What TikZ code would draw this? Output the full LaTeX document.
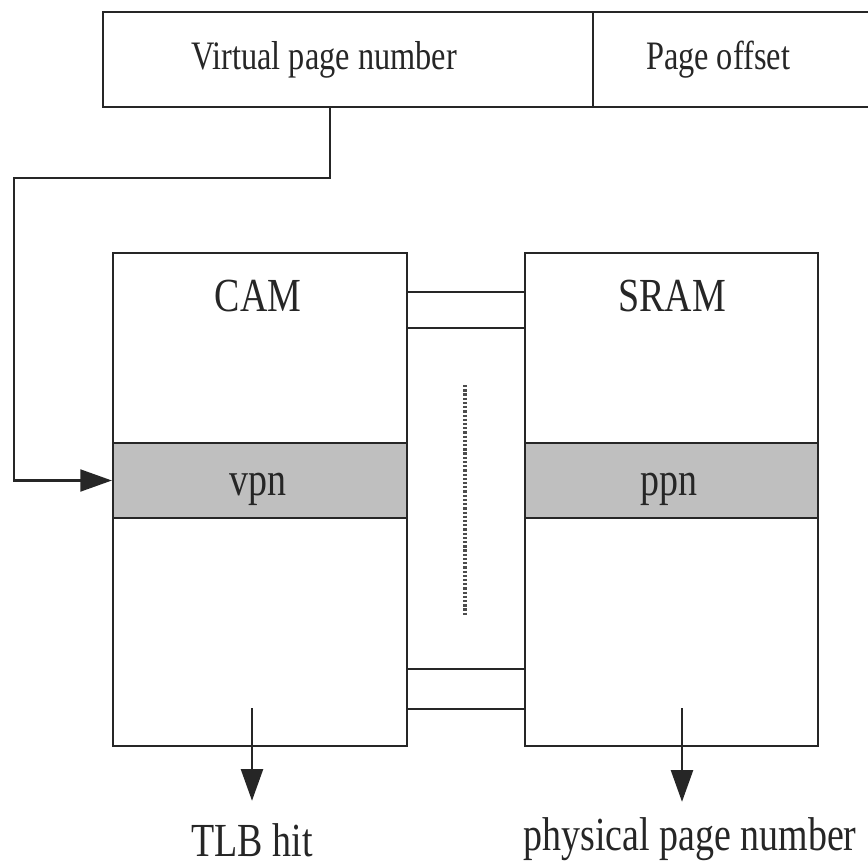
\documentclass[tikz,border=0pt]{standalone}
\usepackage{fontspec}
\setmainfont{Liberation Serif}[FakeStretch=0.8]
\usetikzlibrary{arrows.meta}
\begin{document}
\begin{tikzpicture}[x=0.02cm, y=-0.02cm,
  box/.style={draw=black!85, line width=1.3pt, rectangle, inner sep=0pt},
  band/.style={box, fill=black!25},
  wire/.style={draw=black!85, line width=1.3pt},
  flow/.style={wire, -{Triangle[length=18pt, width=12.5pt]}},
  toplbl/.style={text=black!85, inner sep=0pt, font=\fontsize{23}{27}\selectfont},
  lbl/.style={text=black!85, inner sep=0pt, font=\fontsize{27}{32}\selectfont}]
\useasboundingbox (0,0) rectangle (868,865);

% virtual address fields
\node[box, minimum width=9.8cm, minimum height=1.9cm] (vpnfield) at (348,59.5) {};
\node[box, minimum width=5.74cm, minimum height=1.9cm] (offfield) at (736.5,59.5) {};
\node[toplbl, anchor=base] (vpntxt) at (324,70) {Virtual page number};
\node[toplbl, anchor=base] (offtxt) at (718,70) {Page offset};

% CAM and SRAM arrays with the matching entry
\node[box, minimum width=5.88cm, minimum height=9.86cm] (cam) at (260,499.5) {};
\node[band, minimum width=5.88cm, minimum height=1.5cm] (vpn) at (260,480.5) {};
\node[box, minimum width=5.86cm, minimum height=9.86cm] (sram) at (671.5,499.5) {};
\node[band, minimum width=5.86cm, minimum height=1.5cm] (ppn) at (671.5,480.5) {};
\node[lbl, anchor=base] (camtxt) at (258,311) {CAM};
\node[lbl, anchor=base] (sramtxt) at (672,311) {SRAM};
\node[lbl, anchor=base] (vpntag) at (258,495) {vpn};
\node[lbl, anchor=base] (ppntag) at (669,495) {ppn};

% outputs
\node[lbl, anchor=base] (hit) at (252,856) {TLB hit};
\node[lbl, anchor=base] (ppnout) at (690,850) {physical page number};

% lookup path from the virtual page number into the CAM
\coordinate (tapx) at (330,0);
\coordinate (bend) at (14,178);
\draw[flow] (vpnfield.south -| tapx) |- (bend) |- (vpn.west);

% word lines between CAM and SRAM rows
\foreach \r in {292,328,669,709}{
  \coordinate (row) at (0,\r);
  \draw[wire] (cam.east |- row) -- (sram.west |- row);
}
\coordinate (dtop) at (465,385);
\coordinate (dbot) at (465,615);
\draw[draw=black!70, line width=2pt, dash pattern=on 1.3pt off 1.1pt] (dtop) -- (dbot);

% hit and physical page number outputs
\coordinate (hitsrc) at (252,708);
\coordinate (ppnsrc) at (682,708);
\draw[flow, shorten >=12.5pt] (hitsrc) -- (hit.north);
\draw[flow, shorten >=8.5pt] (ppnsrc) -- (ppnsrc |- ppnout.north);
\end{tikzpicture}
\end{document}
